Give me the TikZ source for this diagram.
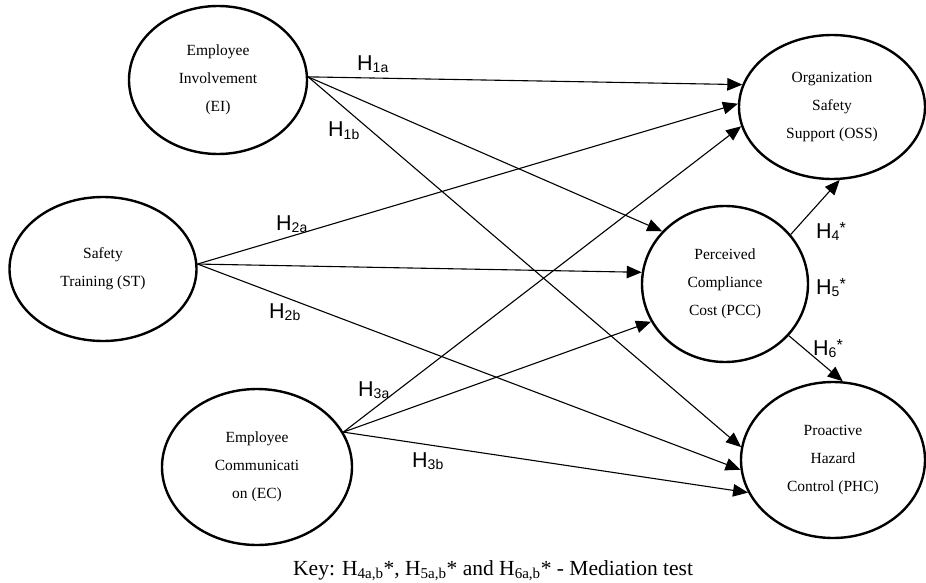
\documentclass[tikz,border=0pt]{standalone}
\usepackage{fontspec}
\setmainfont{Liberation Serif}
\newfontfamily\hfont{Liberation Sans}
\usetikzlibrary{shapes.geometric,arrows.meta}
\newcommand{\Hlab}[1]{{\hfont\fontsize{21.5}{21.5}\selectfont H\raisebox{-2pt}{\fontsize{14}{14}\selectfont #1}}}
\newcommand{\Hstar}[1]{{\hfont\fontsize{21.5}{21.5}\selectfont H\raisebox{-2pt}{\fontsize{14}{14}\selectfont #1}\raisebox{5pt}{\fontsize{16}{16}\selectfont *}}}
\begin{document}
\begin{tikzpicture}[x=1pt,y=-1pt,
  blob/.style={ellipse, draw, line width=2.4pt, inner sep=0pt, align=center,
    font=\fontsize{15.5}{28}\selectfont},
  conn/.style={draw, line width=1.1pt, -{Triangle[length=15pt,width=12.5pt]}},
  hlab/.style={anchor=base west, inner sep=0pt}]
\useasboundingbox (0,0) rectangle (926,583);

\node[blob, minimum width=178pt, minimum height=148pt] (ei) at (218,80) {Employee\\Involvement\\(EI)};
\node[blob, minimum width=186pt, minimum height=144pt] (oss) at (832,107) {Organization\\Safety\\Support (OSS)};
\node[blob, minimum width=187pt, minimum height=144pt] (st) at (103,269) {Safety\\Training (ST)};
\node[blob, minimum width=166pt, minimum height=156pt] (pcc) at (725,284) {Perceived\\Compliance\\Cost (PCC)};
\node[blob, minimum width=190pt, minimum height=156pt] (ec) at (257,467) {Employee\\Communicati\\on (EC)};
\node[blob, minimum width=184pt, minimum height=156pt] (phc) at (833,460) {Proactive\\Hazard\\Control (PHC)};

\draw[conn] (ei.2) -- (oss.166);
\draw[conn] (ei.2) -- (pcc.140);
\draw[conn] (ei.2) -- (phc.172);
\draw[conn] (st.3) -- (oss.178);
\draw[conn] (st.3) -- (pcc.172);
\draw[conn] (st.3) -- (phc.186);
\draw[conn] (ec.22) -- (oss.192);
\draw[conn] (ec.22) -- (pcc.207);
\draw[conn] (ec.22) -- (phc.201);
\draw[conn] (pcc.37) -- (oss.276);
\draw[conn] (pcc.-39) -- (phc.83);

\node[hlab] (h1a) at (357,71) {\Hlab{1a}};
\node[hlab] (h1b) at (328,137) {\Hlab{1b}};
\node[hlab] (h2a) at (276,230) {\Hlab{2a}};
\node[hlab] (h2b) at (269,318) {\Hlab{2b}};
\node[hlab] (h3a) at (358,396) {\Hlab{3a}};
\node[hlab] (h3b) at (412,467) {\Hlab{3b}};
\node[hlab] (h4) at (816,238) {\Hstar{4}};
\node[hlab] (h5) at (816,294) {\Hstar{5}};
\node[hlab] (h6) at (813,355) {\Hstar{6}};

\node[hlab, font=\fontsize{21.5}{26}\selectfont] (key) at (293,575)
  {Key: H\textsubscript{4a,b}*, H\textsubscript{5a,b}* and H\textsubscript{6a,b}* - Mediation test};
\end{tikzpicture}
\end{document}
